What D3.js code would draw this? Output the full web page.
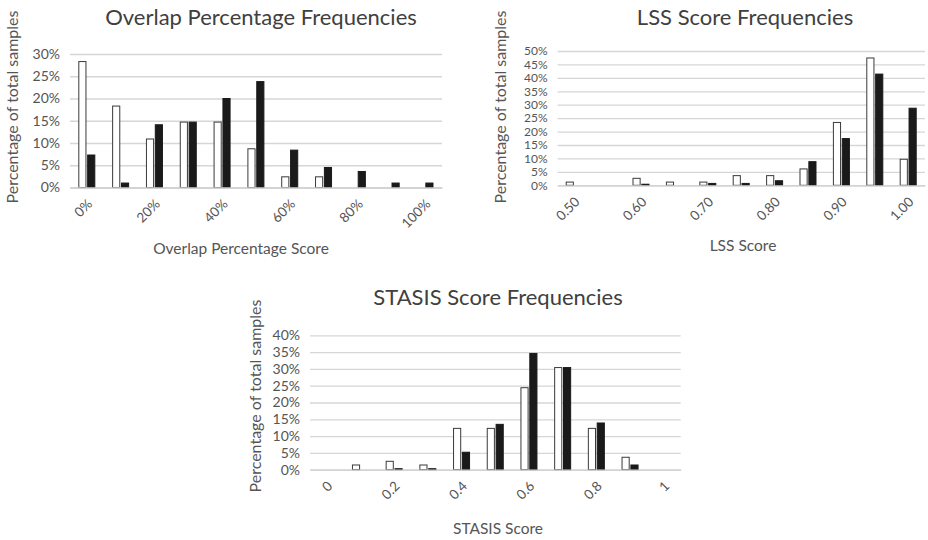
<!DOCTYPE html>
<html>
<head>
<meta charset="utf-8">
<script src="https://cdn.jsdelivr.net/npm/d3@7"></script>
<style>
  html, body { margin: 0; padding: 0; background: #fff; }
  svg { display: block; font-family: Lato, "Open Sans", sans-serif; }
</style>
</head>
<body>
<svg id="chart" width="928" height="540"></svg>
<script>
// Overlap percentage histogram
const overlapCategories = ["0%", "10%", "20%", "30%", "40%", "50%", "60%", "70%", "80%", "90%", "100%"];
const overlapTickLabels = ["0%", "20%", "40%", "60%", "80%", "100%"];
const overlapWhite = [28.3, 18.3, 10.9, 14.7, 14.7, 8.7, 2.4, 2.4, 0, 0, 0];
const overlapBlack = [7.3, 1.0, 14.1, 14.7, 20.0, 23.8, 8.4, 4.5, 3.6, 1.0, 1.0];
const overlapYTicks = [0, 5, 10, 15, 20, 25, 30];

// LSS score histogram
const lssCategories = ["0.50", "0.55", "0.60", "0.65", "0.70", "0.75", "0.80", "0.85", "0.90", "0.95", "1.00"];
const lssTickLabels = ["0.50", "0.60", "0.70", "0.80", "0.90", "1.00"];
const lssWhite = [1.2, 0, 2.6, 1.2, 1.2, 3.6, 3.6, 6.1, 23.4, 47.4, 9.7];
const lssBlack = [0, 0, 0.4, 0, 0.7, 0.7, 1.7, 8.8, 17.4, 41.4, 28.7];
const lssYTicks = [0, 5, 10, 15, 20, 25, 30, 35, 40, 45, 50];

// STASIS score histogram
const stasisCategories = ["0", "0.1", "0.2", "0.3", "0.4", "0.5", "0.6", "0.7", "0.8", "0.9", "1"];
const stasisTickLabels = ["0", "0.2", "0.4", "0.6", "0.8", "1"];
const stasisWhite = [0, 1.4, 2.5, 1.4, 12.3, 12.3, 24.4, 30.4, 12.3, 3.7, 0];
const stasisBlack = [0, 0, 0.3, 0.3, 5.2, 13.5, 34.6, 30.4, 13.9, 1.4, 0];
const stasisYTicks = [0, 5, 10, 15, 20, 25, 30, 35, 40];

const svg = d3.select("#chart");
const textColor = "#555555";

function drawHistogram(opt) {
  const g = svg.append("g");
  const x = d3.scaleBand().domain(opt.categories).range([opt.x0, opt.x1]).padding(0);
  const y = d3.scaleLinear().domain([0, d3.max(opt.yTicks)]).range([opt.yBottom, opt.yTop]);
  const series = d3.scaleBand().domain(["white", "black"])
    .range([-8.6, 8.4]).paddingInner(0.08);

  // gridlines
  g.append("g")
    .attr("transform", `translate(${opt.x0},0)`)
    .call(d3.axisLeft(y).tickValues(opt.yTicks).tickSize(-(opt.x1 - opt.x0)).tickFormat(""))
    .call(s => s.select(".domain").remove())
    .call(s => s.selectAll("line").attr("stroke", "#d6d6d6").attr("stroke-width", 1.3));

  // y tick labels
  g.append("g")
    .attr("transform", `translate(${opt.x0 - 7},0)`)
    .call(d3.axisLeft(y).tickValues(opt.yTicks).tickSize(0).tickFormat(d => d + "%"))
    .call(s => s.select(".domain").remove())
    .call(s => s.selectAll("text")
      .attr("font-family", "Lato, sans-serif")
      .attr("font-size", opt.yFont)
      .attr("fill", textColor));

  // bars
  const rows = opt.categories.map((c, i) => ({ c, white: opt.white[i], black: opt.black[i] }));
  const groups = g.append("g").selectAll("g").data(rows).join("g")
    .attr("transform", d => `translate(${x(d.c) + x.bandwidth() / 2},0)`);
  groups.selectAll("rect")
    .data(d => ["white", "black"].map(k => ({ k, v: d[k] })).filter(e => e.v > 0))
    .join("rect")
    .attr("x", e => series(e.k) + 0.5)
    .attr("width", series.bandwidth() - 1)
    .attr("y", e => y(e.v))
    .attr("height", e => y(0) - y(e.v))
    .attr("fill", e => e.k === "white" ? "#ffffff" : "#1a1a1a")
    .attr("stroke", e => e.k === "white" ? "#3a3a3a" : "#1a1a1a")
    .attr("stroke-width", 1);

  // baseline
  g.append("g")
    .attr("transform", `translate(0,${opt.yBottom})`)
    .call(d3.axisBottom(x).tickValues([]).tickSizeOuter(0))
    .call(s => s.select(".domain").attr("stroke", "#cfcfcf").attr("stroke-width", 1.3));

  // x tick labels, rotated
  g.append("g").selectAll("text")
    .data(opt.tickLabels)
    .join("text")
    .attr("transform", d => `translate(${x(d) + x.bandwidth() / 2 + 3},${opt.yBottom + 14}) rotate(-45)`)
    .attr("text-anchor", "end")
    .attr("dy", "0.35em")
    .attr("font-size", 13.5)
    .attr("fill", textColor)
    .text(d => d);

  // chart title
  g.append("text")
    .attr("x", opt.titleX).attr("y", opt.titleY)
    .attr("text-anchor", "middle")
    .attr("font-size", 22)
    .attr("fill", "#404040")
    .text(opt.title);

  // x axis title
  g.append("text")
    .attr("x", opt.xTitleX).attr("y", opt.xTitleY)
    .attr("text-anchor", "middle")
    .attr("font-size", 15.5)
    .attr("fill", textColor)
    .text(opt.xTitle);

  // y axis title
  g.append("text")
    .attr("transform", `translate(${opt.yTitleX},${opt.yTitleY}) rotate(-90)`)
    .attr("text-anchor", "middle")
    .attr("font-size", 16)
    .attr("fill", textColor)
    .text("Percentage of total samples");
}

drawHistogram({
  categories: overlapCategories, tickLabels: overlapTickLabels,
  white: overlapWhite, black: overlapBlack, yTicks: overlapYTicks,
  x0: 70, x1: 442, yTop: 54, yBottom: 187.5, yFont: 14,
  title: "Overlap Percentage Frequencies", titleX: 261, titleY: 25,
  xTitle: "Overlap Percentage Score", xTitleX: 241, xTitleY: 254,
  yTitleX: 18, yTitleY: 107
});

drawHistogram({
  categories: lssCategories, tickLabels: lssTickLabels,
  white: lssWhite, black: lssBlack, yTicks: lssYTicks,
  x0: 557.6, x1: 925, yTop: 51, yBottom: 185.3, yFont: 12,
  title: "LSS Score Frequencies", titleX: 745, titleY: 25,
  xTitle: "LSS Score", xTitleX: 743, xTitleY: 251,
  yTitleX: 506, yTitleY: 107
});

drawHistogram({
  categories: stasisCategories, tickLabels: stasisTickLabels,
  white: stasisWhite, black: stasisBlack, yTicks: stasisYTicks,
  x0: 310, x1: 680.7, yTop: 335.3, yBottom: 469.7, yFont: 14,
  title: "STASIS Score Frequencies", titleX: 498, titleY: 305,
  xTitle: "STASIS Score", xTitleX: 498, xTitleY: 534,
  yTitleX: 261, yTitleY: 396
});
</script>
</body>
</html>
